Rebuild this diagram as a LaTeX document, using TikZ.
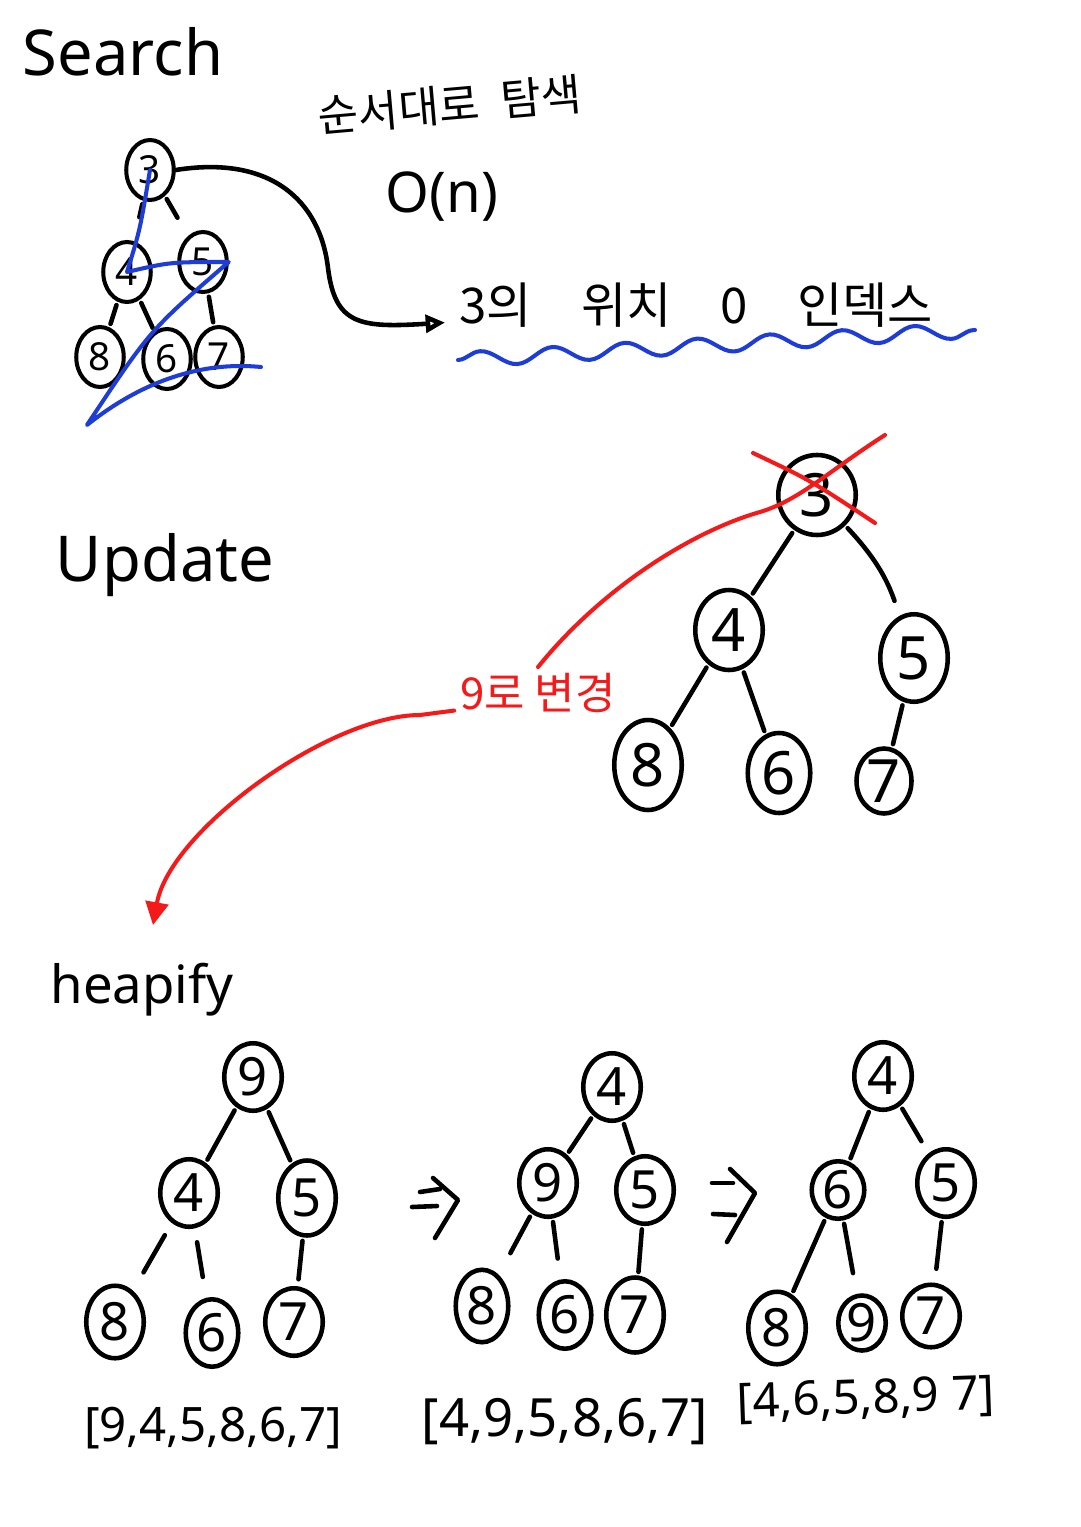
\documentclass[tikz,border=0pt]{standalone}
\usepackage{fontspec}
\setmainfont{Noto Sans}
\newfontfamily\krfont{Noto Sans CJK KR}
\usetikzlibrary{shapes,arrows.meta,decorations.pathmorphing,positioning}
\definecolor{inkblue}{RGB}{30,60,215}
\definecolor{inkred}{RGB}{245,25,25}

\begin{document}
\begin{tikzpicture}[x=0.02cm, y=-0.02cm,
    ink/.style={line width=2.6pt, line cap=round, line join=round},
    trace/.style={ink, draw=inkblue, line width=2.3pt},
    redink/.style={ink, draw=inkred, line width=2.3pt},
    snode/.style={draw, ellipse, line width=2.3pt, inner sep=0pt, minimum width=0.95cm, minimum height=1.2cm, font=\fontsize{22}{22}\selectfont},
    unode/.style={draw, ellipse, line width=2.6pt, inner sep=0pt, minimum width=1.35cm, minimum height=1.6cm, font=\fontsize{34}{34}\selectfont},
    hnode/.style={draw, ellipse, line width=2.6pt, inner sep=0pt, minimum width=1.15cm, minimum height=1.35cm, font=\fontsize{30}{30}\selectfont},
    link/.style={ink, shorten <=2pt, shorten >=2pt},
    title/.style={font=\fontsize{36}{38}\selectfont},
    krnote/.style={font=\krfont\fontsize{25}{27}\selectfont},
    listtext/.style={font=\fontsize{27}{29}\selectfont}
]

\fill[white] (0,0) rectangle (1080,1527);
\useasboundingbox (0,0) rectangle (1080,1527);

% Search
\node[title] (search) at (123,52) {Search};
\node[krnote, rotate=5] (order) at (450,105) {순서대로\enspace 탐색};
\node[font=\fontsize{32}{34}\selectfont] (bigo) at (442,197) {O(n)};
\node[krnote, font=\krfont\fontsize{28}{30}\selectfont, anchor=west, inner sep=8pt] (pos) at (445,305) {3의\quad 위치\quad 0\quad 인덱스};

\node[snode] (s3) at (150,170) {3};
\node[snode] (s4) at (127,272) {4};
\node[snode] (s5) at (203,262) {5};
\node[snode] (s8) at (100,357) {8};
\node[snode] (s6) at (167,359) {6};
\node[snode] (s7) at (219,357) {7};

\draw[link, shorten >=14pt] (s3) -- (s4);
\draw[link, shorten >=12pt] (s3) -- (s5);
\draw[link] (s4) -- (s8);
\draw[link] (s4) -- (s6);
\draw[link] (s5) -- (s7);

% traversal order
\coordinate (bl) at (87,425);
\coordinate (br) at (261,367);
\draw[trace] (s3.center) .. controls (140,230) .. (s4.center) .. controls (170,262) .. (s5.east) .. controls (150,330) .. (bl) .. controls (150,375) and (210,362) .. (br);

\draw[ink, -{Triangle[open, length=11pt, width=10pt]}] (s3.east) .. controls (270,155) and (320,200) .. (328,268) .. controls (335,325) and (360,328) .. ([yshift=-10pt]pos.west);

% underline
\draw[trace, decorate, decoration={snake, segment length=1.45cm, amplitude=0.15cm}] (458,360) -- (975,330);

% Update
\node[title] (upd) at (165,565) {Update};
\node[unode, minimum width=1.55cm] (u3) at (817,495) {3};
\node[unode] (u4) at (729,630) {4};
\node[unode, minimum height=1.75cm] (u5) at (914,658) {5};
\node[unode, minimum height=1.8cm] (u8) at (648,765) {8};
\node[unode, minimum width=1.25cm] (u6) at (779,773) {6};
\node[unode, minimum width=1.1cm, minimum height=1.3cm] (u7) at (884,781) {7};

\draw[link] (u3) -- (u4);
\draw[link, shorten >=9pt] (u3) to[bend left=12] (u5);
\draw[link] (u4) -- (u8);
\draw[link] (u4) -- (u6);
\draw[link] (u5) -- (u7);

\node[krnote, text=inkred] (chg) at (538,693) {9로 변경};

\coordinate (xa) at (885,435);
\coordinate (tip) at (153,925);
\draw[redink] (753,453) .. controls (810,480) .. (875,523);
\draw[redink] (xa) .. controls (830,470) and (800,500) .. (760,512) .. controls (690,532) and (600,590) .. (chg.north);
\draw[redink, -{Triangle[length=13pt, width=13pt]}] ([yshift=-10pt]chg.west) -- (420,715) .. controls (330,715) and (170,830) .. (tip);

% heapify
\node[title, font=\fontsize{30}{32}\selectfont] (heap) at (142,990) {heapify};

\node[hnode] (h9) at (253,1077) {9};
\node[hnode] (h4) at (189,1193) {4};
\node[hnode, minimum height=1.5cm] (h5) at (307,1198) {5};
\node[hnode, minimum height=1.45cm] (h8) at (115,1322) {8};
\node[hnode, minimum width=1.05cm] (h6) at (212,1333) {6};
\node[hnode] (h7) at (294,1322) {7};

\draw[link] (h9) -- (h4);
\draw[link] (h9) -- (h5);
\draw[link, shorten <=8pt, shorten >=12pt] (h4) -- (h8);
\draw[link, shorten <=8pt, shorten >=12pt] (h4) -- (h6);
\draw[link, shorten >=4pt] (h5) -- (h7);

\draw[ink] (420,1192) -- (440,1189);
\draw[ink] (412,1207) -- (437,1206);
\draw[ink] (433,1178) -- (458,1200) -- (435,1238);

\node[hnode] (g4) at (612,1087) {4};
\node[hnode] (g9) at (548,1183) {9};
\node[hnode] (g5) at (645,1190) {5};
\node[hnode, minimum width=1.05cm, minimum height=1.45cm] (g8) at (482,1306) {8};
\node[hnode, minimum width=1.05cm] (g6) at (565,1315) {6};
\node[hnode, minimum height=1.5cm] (g7) at (635,1315) {7};

\draw[link] (g4) -- (g9);
\draw[link] (g4) -- (g5);
\draw[link, shorten >=14pt] (g9) -- (g8);
\draw[link, shorten >=12pt] (g9) -- (g6);
\draw[link] (g5) -- (g7);

\draw[ink] (712,1183) -- (733,1183);
\draw[ink] (713,1214) -- (735,1215);
\draw[ink] (730,1169) -- (755,1193) -- (727,1242);

\node[hnode] (k4) at (883,1076) {4};
\node[hnode, minimum width=1.05cm, minimum height=1.15cm] (k6) at (838,1190) {6};
\node[hnode] (k5) at (946,1183) {5};
\node[hnode, minimum height=1.45cm] (k8) at (777,1328) {8};
\node[hnode, minimum width=0.95cm, minimum height=1.1cm] (k9) at (862,1323) {9};
\node[hnode, minimum height=1.25cm] (k7) at (931,1316) {7};

\draw[link] (k4) -- (k6);
\draw[link, shorten >=8pt] (k4) -- (k5);
\draw[link] (k6) -- (k8);
\draw[link, shorten >=12pt] (k6) -- (k9);
\draw[link, shorten >=8pt] (k5) -- (k7);

\node[listtext] (l1) at (213,1428) {[9,4,5,8,6,7]};
\node[listtext, font=\fontsize{30}{32}\selectfont] (l2) at (565,1422) {[4,9,5,8,6,7]};
\node[listtext, rotate=2] (l3) at (866,1400) {[4,6,5,8,9 7]};

\end{tikzpicture}
\end{document}
